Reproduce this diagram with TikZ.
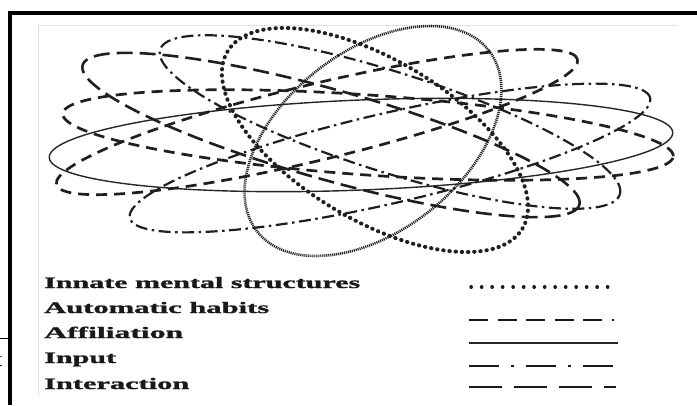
\documentclass[tikz,border=0pt]{standalone}
\usepackage{fontspec}
\setmainfont{Liberation Serif}[BoldFeatures={FakeBold=1.2}]
\usepackage{graphicx}
\begin{document}
\begin{tikzpicture}[x=1pt,y=-1pt,
  ell/.style={line width=2pt, black!88},
  innate/.style={ell, line width=4pt, line cap=round, dash pattern=on 0.4pt off 5.8pt},
  finedot/.style={ell, line width=2.6pt, dash pattern=on 1.1pt off 0.9pt},
  habits/.style={ell, line width=2.7pt, dash pattern=on 11pt off 7pt},
  inter/.style={ell, line width=2.6pt, dash pattern=on 16pt off 7pt},
  inputs/.style={ell, line width=2.2pt, dash pattern=on 12pt off 4.5pt on 2.5pt off 4.5pt},
  affil/.style={line width=1.4pt, black!85},
  lab/.style={anchor=base west, inner sep=0pt, text=black!90, font=\fontsize{16}{16}\selectfont\bfseries},
]
\useasboundingbox (0,0) rectangle (697,405);
% outer frame
\draw[line width=4pt] (8,13) -- (697,13);
\draw[line width=4pt] (10,11) -- (10,405);
\draw[black!12, line width=0.6pt] (38,395) -- (38,25) -- (677,25);
% fragments at lower left
\draw[line width=0.8pt] (0,338) -- (9,338);
\begin{scope}
\clip (0,340) rectangle (8,405);
\node[inner sep=0pt, anchor=base west, font=\fontsize{22}{22}\selectfont] (frag) at (-4,366) {t};
\end{scope}
% ellipses
\draw[affil, shift={(361,145)}, rotate=2.3] (0,0) ellipse[x radius=312pt, y radius=45pt];
\draw[habits, shift={(317,122)}, rotate=13.5] (0,0) ellipse[x radius=268pt, y radius=38pt];
\draw[habits, shift={(368,135)}, rotate=-4] (0,0) ellipse[x radius=306pt, y radius=40pt];
\draw[inputs, shift={(390,158)}, rotate=13] (0,0) ellipse[x radius=267pt, y radius=45pt];
\draw[inter, shift={(331,135)}, rotate=-15.7] (0,0) ellipse[x radius=258pt, y radius=45pt];
\draw[inputs, shift={(390,122)}, rotate=-17.5] (0,0) ellipse[x radius=241pt, y radius=50pt];
\draw[innate, shift={(375,140)}, rotate=-31] (0,0) ellipse[x radius=172pt, y radius=80pt];
\draw[finedot, shift={(373,141)}, rotate=38] (0,0) ellipse[x radius=147pt, y radius=90pt];
% legend
\node[lab] (t1) at (44,288) {\resizebox{316pt}{\height}{Innate mental structures}};
\node[lab] (t2) at (44,313) {\resizebox{225pt}{\height}{Automatic habits}};
\node[lab] (t3) at (44,338) {\resizebox{139pt}{\height}{Affiliation}};
\node[lab] (t4) at (44,363) {\resizebox{72pt}{\height}{Input}};
\node[lab] (t5) at (44,389) {\resizebox{145pt}{\height}{Interaction}};
\draw[black!90, line width=3.4pt, line cap=round, dash pattern=on 0.3pt off 10.2pt] (471,287) -- (616,287);
\draw[black!90, line width=2.6pt, dash pattern=on 19pt off 9.5pt] (469,320) -- (614,320);
\draw[black!85, line width=1.4pt] (469,343) -- (618,343);
\draw[black!90, line width=2.6pt, dash pattern=on 30pt off 12pt on 3pt off 12pt] (469,366) -- (616,366);
\draw[black!90, line width=2.6pt, dash pattern=on 33pt off 12pt] (469,387) -- (616,387);
\end{tikzpicture}
\end{document}
